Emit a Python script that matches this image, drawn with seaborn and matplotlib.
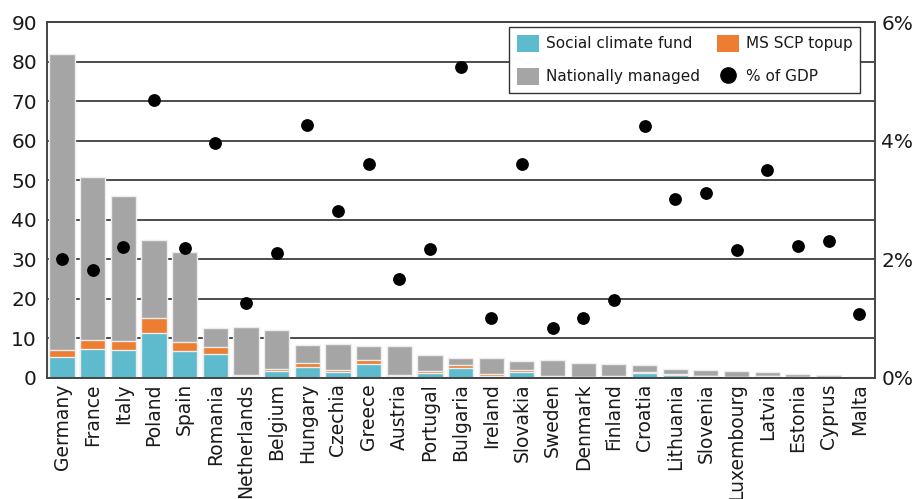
import matplotlib
matplotlib.use("Agg")
import matplotlib.pyplot as plt
import seaborn as sns
import pandas as pd
import numpy as np
from matplotlib.patches import Patch
from matplotlib.lines import Line2D
from matplotlib.ticker import FuncFormatter

countries = ["Germany", "France", "Italy", "Poland", "Spain", "Romania", "Netherlands",
             "Belgium", "Hungary", "Czechia", "Greece", "Austria", "Portugal", "Bulgaria",
             "Ireland", "Slovakia", "Sweden", "Denmark", "Finland", "Croatia", "Lithuania",
             "Slovenia", "Luxembourg", "Latvia", "Estonia", "Cyprus", "Malta"]
social_climate_fund = [5.2, 7.2, 6.9, 11.4, 6.75, 5.9, 0.5, 1.6, 2.7, 1.5, 3.55, 0.45, 1.1, 2.4,
                       0.5, 1.45, 0.3, 0.2, 0.25, 1.1, 0.6, 0.35, 0.1, 0.35, 0.15, 0.1, 0.05]
ms_scp_topup = [1.7, 2.4, 2.3, 3.8, 2.2, 1.9, 0.3, 0.5, 0.9, 0.5, 1.05, 0.3, 0.5, 0.8,
                0.4, 0.55, 0.15, 0.1, 0.1, 0.45, 0.3, 0.1, 0.05, 0.1, 0.05, 0.05, 0.02]
nationally_managed = [75.1, 41.3, 36.7, 19.7, 22.95, 4.9, 12.0, 10.1, 4.7, 6.5, 3.3, 7.15, 4.1, 1.7,
                      4.1, 2.3, 4.1, 3.4, 3.2, 1.55, 1.2, 1.4, 1.45, 0.9, 0.66, 0.53, 0.13]
pct_gdp = [2.0, 1.82, 2.21, 4.68, 2.19, 3.97, 1.26, 2.11, 4.27, 2.81, 3.6, 1.67, 2.17, 5.25,
           1.01, 3.6, 0.84, 1.01, 1.31, 4.25, 3.01, 3.11, 2.16, 3.5, 2.23, 2.30, 1.07]

BLUE = "#5EBACD"
ORANGE = "#ED7D31"
GRAY = "#A5A5A5"
EDGE = "#EDEDED"
DARK = "#2e2e2e"

sns.set_theme(style="white")
plt.rcParams['font.family'] = ['DejaVu Sans']
plt.rcParams['text.color'] = '#1a1a1a'

df = pd.DataFrame({
    "country": countries,
    "scf": social_climate_fund,
    "topup": ms_scp_topup,
    "nat": nationally_managed,
    "gdp": pct_gdp,
})
df["lvl1"] = df["scf"]
df["lvl2"] = df["scf"] + df["topup"]
df["total"] = df["lvl2"] + df["nat"]

fig = plt.figure(figsize=(9.14, 4.99), dpi=100)
ax = fig.add_axes([0.0511, 0.2431, 0.9057, 0.7122])

for col, c in [("total", GRAY), ("lvl2", ORANGE), ("lvl1", BLUE)]:
    sns.barplot(data=df, x="country", y=col, color=c, saturation=1, width=0.82,
                edgecolor=EDGE, linewidth=1.0, ax=ax, zorder=2)

ax.set_ylim(0, 90)
ax.set_yticks(range(0, 91, 10))
ax.set_xlim(-0.5, len(countries) - 0.5)
ax.set_xlabel("")
ax.set_ylabel("")
ax.set_axisbelow(True)
ax.yaxis.grid(True, color=DARK, linewidth=1.2)
ax.xaxis.grid(False)
ax.tick_params(axis="x", rotation=90, length=0, labelsize=13.5, pad=4, labelcolor="#1a1a1a")
ax.tick_params(axis="y", length=0, labelsize=14.5, pad=7, labelcolor="#1a1a1a")
for s in ax.spines.values():
    s.set_color("#444444")
    s.set_linewidth(1.2)

ax2 = ax.twinx()
sns.scatterplot(x=np.arange(len(df)), y=df["gdp"], color="black", s=85, edgecolor="black",
                linewidth=0, ax=ax2, zorder=3)
ax2.set_ylim(0, 6)
ax2.set_yticks([0, 2, 4, 6])
ax2.yaxis.set_major_formatter(FuncFormatter(lambda v, p: f"{int(v)}%"))
ax2.set_ylabel("")
ax2.tick_params(axis="y", length=0, labelsize=14.5, pad=5, labelcolor="#1a1a1a")
ax2.set_xlim(-0.5, len(countries) - 0.5)
for s in ax2.spines.values():
    s.set_color("#444444")
    s.set_linewidth(1.2)

handles = [
    Patch(facecolor=BLUE, edgecolor="none", label="Social climate fund"),
    Patch(facecolor=GRAY, edgecolor="none", label="Nationally managed"),
    Patch(facecolor=ORANGE, edgecolor="none", label="MS SCP topup"),
    Line2D([], [], marker="o", linestyle="none", color="black", markersize=11,
           label="% of GDP"),
]
leg = ax2.legend(handles=handles, ncol=2, loc="upper right",
                 bbox_to_anchor=(0.9825, 0.987), borderaxespad=0,
                 fontsize=11, frameon=True, fancybox=False, framealpha=1,
                 handlelength=1.45, handleheight=1.35, handletextpad=0.45,
                 labelspacing=1.05, columnspacing=1.1, borderpad=0.5)
leg.get_frame().set_edgecolor("#333333")
leg.get_frame().set_linewidth(1.0)

fig.savefig("out.png", dpi=100)
